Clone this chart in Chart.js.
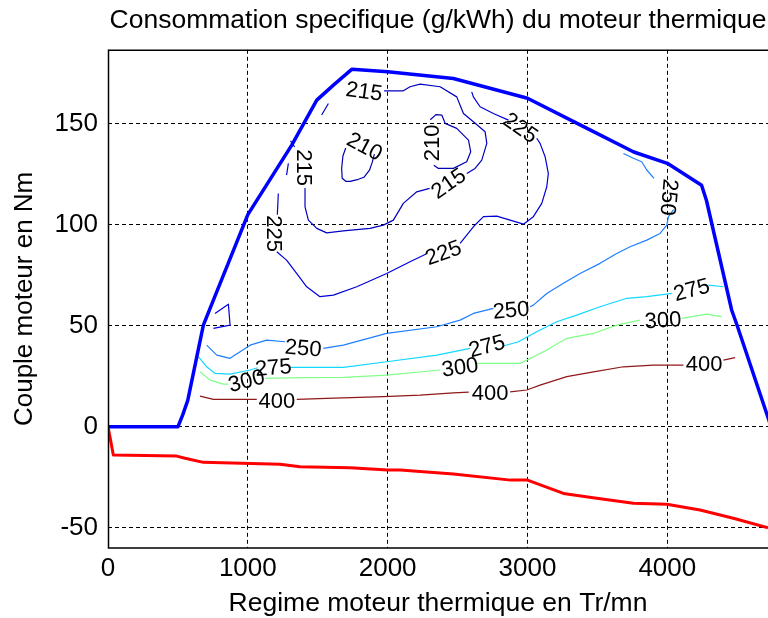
<!DOCTYPE html>
<html>
<head>
<meta charset="utf-8">
<script src="https://cdn.jsdelivr.net/npm/chart.js@4.4.1/dist/chart.umd.min.js"></script>
<style>
  html, body { margin: 0; padding: 0; background: #fff; }
</style>
</head>
<body>
<canvas id="chart" width="768" height="618"></canvas>
<script>
// axes
const xTicks = [0, 1000, 2000, 3000, 4000];
const yTicks = [-50, 0, 50, 100, 150];
const xRange = [0, 4720];
const yRange = [-60, 186.6];

// couple max et couple min (Tr/mn, Nm)
const maxTorque = [[0,0],[500,0],[535,6],[570,13],[682,50.3],[730,58.6],[1000,105],[1314,139.4],[1493,161.7],[1610,169],[1745,177],[2000,175.7],[2470,172.4],[3000,162.6],[3380,149.3],[3760,136],[4000,130.4],[4245,119.6],[4280,112],[4460,57.8],[4500,50],[4742,0]];
const minTorque = [[0,0],[14,-5],[38,-14],[491,-14.5],[551,-15.6],[682,-17.6],[1230,-18.5],[1373,-19.8],[1731,-20.3],[2000,-21.4],[2090,-21.4],[2470,-23.4],[2880,-26.4],[3000,-26.4],[3257,-33],[3495,-35.4],[3757,-37.9],[3996,-38.3],[4234,-41.2],[4472,-45.3],[4720,-50]];

// iso-consommation (g/kWh) : chaque niveau = liste de troncons
const levels = [210, 215, 225, 250, 275, 300, 400];
const c210 = [
  [[1700,138],[1680,134],[1671,128],[1675,123],[1700,121.5],[1731,121.5],[1790,122.5],[1830,123.5],[1870,127],[1890,131],[1905,135]],
  [[2305,152],[2345,154.5],[2387,154.3],[2411,150.2],[2494,147.7],[2578,141.9],[2594,136.1],[2565,131.2],[2470,127.9],[2363,127.9],[2330,129.5]]
];
const c215 = [
  [[1305,141.5],[1335,138.5]],
  [[1409,118],[1409,108.9],[1433,102.3],[1493,98.2],[1564,96],[1683,97],[1874,98.2],[1969,99.8],[2041,102.3],[2112,110.6],[2208,116.3],[2300,118]],
  [[2566,125.4],[2625,127.9],[2673,132],[2709,140.3],[2697,146],[2613,151],[2542,155.1],[2494,163.3],[2375,168.3],[2232,169.6],[2160,168.3],[2112,166.3],[1975,166.3]],
  [[1576,160],[1528,154.3]]
];
const c225 = [
  [[1290,130.4],[1277,124.6]],
  [[1218,115.5],[1211,105]],
  [[1207,86.6],[1277,82.5],[1349,75.9],[1421,69.3],[1516,64.4],[1612,65.2],[1779,69.3],[1993,75.9],[2160,81.7],[2275,85.5]],
  [[2518,90.8],[2613,99],[2685,104],[2780,104.3],[2876,102.3],[2971,100.3],[3042,104],[3102,110.6],[3138,118.8],[3149,125.4],[3126,133.7],[3090,140.3],[3066,142.8]],
  [[2864,151.8],[2756,155.1],[2661,158.4],[2613,163.3],[2601,165.8]],
  [[765,56.1],[861,60.7],[873,50.3],[754,48.7]]
];
const c250 = [
  [[3686,135.3],[3757,132.9],[3817,131.2],[3853,127.1],[3905,123]],
  [[4045,107.5],[4008,104],[3996,99.8],[3948,95.7],[3853,92.4],[3734,89.1],[3638,85.8],[3519,80.9],[3376,75.9],[3257,71],[3138,66],[3042,60.2],[3018,59.4]],
  [[2756,58.6],[2613,56.1],[2518,52.8],[2351,49.5],[1993,46.2],[1683,40.4],[1540,38.8]],
  [[1266,42.1],[1135,42.9],[1016,40.4],[873,33.9],[778,35.5],[706,40.4]]
];
const c275 = [
  [[646,34.7],[706,29.7],[766,26.4],[873,26.1],[1016,28.1],[1070,29.2]],
  [[1302,29.4],[1683,29.4],[1993,32.2],[2351,35.5],[2589,38.8]],
  [[2827,40],[2935,42.1],[3066,47],[3209,52],[3352,55.3],[3519,59.4],[3710,63.6],[3853,64.4],[4035,66]],
  [[4294,70.1],[4401,69.3]]
];
const c300 = [
  [[658,27.2],[730,23.1],[825,21.1],[861,21.1]],
  [[1123,24],[1397,24.3],[1683,24.5],[1993,25.6],[2375,28.1]],
  [[2625,31.4],[2947,31.4],[2995,33],[3138,38],[3281,43.8],[3472,46.2],[3638,50.3],[3805,52.8]],
  [[4103,53.7],[4282,55.8],[4389,54.5]]
];
const c400 = [
  [[658,15.2],[754,13.6],[1064,13.6]],
  [[1350,13.6],[1564,14.1],[1969,14.9],[2232,15.7],[2470,16.8],[2580,17.2]],
  [[2876,17.3],[2995,18.2],[3090,20.6],[3281,24.8],[3472,27.2],[3686,29.7],[3900,30.5],[4115,30.5]],
  [[4401,33],[4485,34.2]]
];
const contours = [c210, c215, c225, c250, c275, c300, c400];

// etiquettes des courbes : [niveau, regime, couple]
const contourLabels = [
  [215,1395,128.3],[215,1831,165.6],[215,2439,120.1],
  [210,1833,138.3],[210,2321,140.5],
  [225,1177,95.6],[225,2400,85.7],[225,2947,147.6],
  [250,1395,38.5],[250,2883,57.3],[250,4006,113.7],
  [275,1183,28.9],[275,2711,39.5],[275,4175,67.4],
  [300,992,22.3],[300,2518,29],[300,3970,52.3],
  [400,1207,12.4],[400,2732,16.4],[400,4263,30.5]
];
const labelAngles = [90,8,-35, 28,-90, 90,-20,35, 5,-5,95, -5,-15,-15, -15,-8,-3, 0,0,0];

const levelColors = ['#0000b0', '#0000c0', '#0000d8', '#1f7fff', '#10d8ff', '#80ff88', '#901818'];
const FONT = '"Liberation Sans", Arial, sans-serif';

const toXY = pts => pts.map(p => ({ x: p[0], y: p[1] }));

const datasets = [
  { label: 'Cmax', data: toXY(maxTorque), borderColor: '#0000ff', borderWidth: 3.5 },
  { label: 'Cmin', data: toXY(minTorque), borderColor: '#ff0000', borderWidth: 3 }
];
contours.forEach((segs, i) => {
  segs.forEach(seg => {
    datasets.push({ label: String(levels[i]), data: toXY(seg), borderColor: levelColors[i], borderWidth: 1.2 });
  });
});
datasets.forEach(d => {
  d.showLine = true;
  d.pointRadius = 0;
  d.fill = false;
  d.tension = 0;
  d.borderJoinStyle = 'round';
});

// cadre + etiquettes des iso-courbes
const overlay = {
  id: 'overlay',
  afterDatasetsDraw(chart) {
    const ctx = chart.ctx;
    const xs = chart.scales.x, ys = chart.scales.y;
    const a = chart.chartArea;
    ctx.save();
    ctx.beginPath();
    ctx.rect(a.left, a.top, a.right - a.left, a.bottom - a.top);
    ctx.clip();
    ctx.fillStyle = '#000';
    ctx.font = '22px ' + FONT;
    ctx.textAlign = 'center';
    ctx.textBaseline = 'middle';
    contourLabels.forEach((l, i) => {
      ctx.save();
      ctx.translate(xs.getPixelForValue(l[1]), ys.getPixelForValue(l[2]));
      ctx.rotate(labelAngles[i] * Math.PI / 180);
      ctx.fillText(String(l[0]), 0, 0);
      ctx.restore();
    });
    ctx.restore();

    ctx.save();
    ctx.strokeStyle = '#000';
    ctx.lineWidth = 1.5;
    ctx.beginPath();
    ctx.moveTo(a.right, a.top + 0.5);
    ctx.lineTo(a.left + 0.5, a.top + 0.5);
    ctx.lineTo(a.left + 0.5, a.bottom);
    ctx.lineTo(a.right, a.bottom);
    ctx.stroke();
    ctx.restore();
  }
};

new Chart(document.getElementById('chart'), {
  type: 'scatter',
  data: { datasets: datasets },
  options: {
    responsive: false,
    animation: false,
    layout: { padding: 0 },
    plugins: {
      legend: { display: false },
      tooltip: { enabled: false },
      title: {
        display: true,
        fullSize: false,
        text: 'Consommation specifique (g/kWh) du moteur thermique',
        color: '#000',
        font: { family: FONT, size: 26.5, weight: 'normal', lineHeight: 1.2 },
        padding: { top: 5, bottom: 13 }
      }
    },
    scales: {
      x: {
        type: 'linear',
        min: xRange[0],
        max: xRange[1],
        afterBuildTicks: s => { s.ticks = xTicks.map(v => ({ value: v })); },
        afterFit: s => { s.height = 70; },
        ticks: { color: '#000', padding: 5, maxRotation: 0, font: { family: FONT, size: 26 }, callback: v => String(v) },
        grid: { color: '#000', lineWidth: 1, drawTicks: false },
        border: { display: false, dash: [4, 3] },
        title: {
          display: true,
          text: 'Regime moteur thermique en Tr/mn',
          color: '#000',
          font: { family: FONT, size: 26.5, lineHeight: 1 },
          padding: { top: 0, bottom: 1 }
        }
      },
      y: {
        type: 'linear',
        min: yRange[0],
        max: yRange[1],
        afterBuildTicks: s => { s.ticks = yTicks.map(v => ({ value: v })); },
        afterFit: s => { s.width = 108; },
        ticks: { color: '#000', padding: 10, font: { family: FONT, size: 26 }, callback: v => String(v) },
        grid: { color: '#000', lineWidth: 1, drawTicks: false },
        border: { display: false, dash: [4, 3] },
        title: {
          display: true,
          text: 'Couple moteur en Nm',
          color: '#000',
          font: { family: FONT, size: 26, lineHeight: 1 },
          padding: { top: 12, bottom: 0 }
        }
      }
    }
  },
  plugins: [overlay]
});
</script>
</body>
</html>
